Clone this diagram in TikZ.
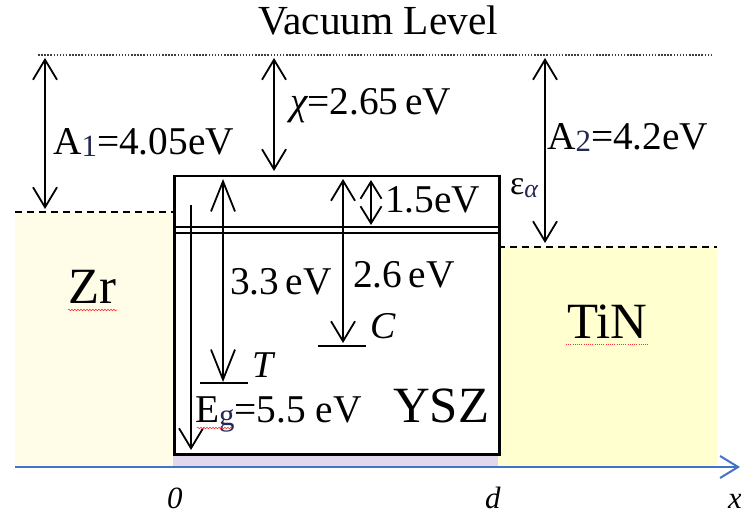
\documentclass[tikz,border=0pt]{standalone}
\usepackage{fontspec}
\setmainfont{Liberation Serif}
\usetikzlibrary{arrows.meta,decorations.pathmorphing}
\definecolor{zrfill}{RGB}{255,253,232}
\definecolor{tinfill}{RGB}{255,255,208}
\definecolor{purp}{RGB}{226,216,238}
\definecolor{axblue}{RGB}{68,114,196}
\definecolor{subcol}{RGB}{35,40,80}
\begin{document}
\begin{tikzpicture}[x=1bp,y=-1bp,
  barb/.tip={Straight Barb[length=20bp,width=24bp,line width=1.8bp]},
  longbarb/.tip={Straight Barb[length=30bp,width=24bp,line width=1.8bp]},
  smallbarb/.tip={Straight Barb[length=17bp,width=21bp,line width=1.8bp]},
  lab/.style={inner sep=0pt,anchor=base west,font=\fontsize{39.5}{41}\selectfont},
  biglab/.style={inner sep=0pt,anchor=base west,font=\fontsize{51}{54}\selectfont},
  axlab/.style={inner sep=0pt,anchor=base west,font=\fontsize{31}{33}\selectfont\itshape},
  energy/.style={line width=2bp},
  level/.style={line width=2bp},
  fermi/.style={line width=2bp,dash pattern=on 7bp off 5bp},
  vac/.style={line width=1.5bp,dash pattern=on 1.5bp off 1.6bp,black!75},
  wavy/.style={red!80,line width=0.6bp,decorate,decoration={snake,amplitude=0.8bp,segment length=3bp}}
]
\useasboundingbox (0,0) rectangle (741,514);
\fill[white] (0,0) rectangle (741,514);

% regions
\fill[zrfill] (15,212) rectangle (173,467);
\fill[tinfill] (498,247) rectangle (717,467);
\fill[purp] (173,453) rectangle (498,467);

% YSZ box
\node[draw,line width=2.5bp,minimum width=325bp,minimum height=278bp,inner sep=0pt,anchor=north west] (ysz) at (173,175) {};
\draw[line width=2bp] (173,227) -- (498,227);
\draw[line width=2bp] (173,233) -- (498,233);

% Fermi levels and vacuum level
\draw[fermi] (15,212) -- (173,212);
\draw[fermi] (498,247) -- (717,247);
\draw[vac] (38,55) -- (712,55);

% x axis
\coordinate (ax0) at (15,467);
\coordinate (ax1) at (740,467);
\draw[axblue,line width=2bp,-{Straight Barb[length=18bp,width=22bp,line width=2bp]}] (ax0) -- (ax1);

% levels T and C
\coordinate (tl) at (200,383); \coordinate (tr) at (248,383);
\coordinate (cl) at (318,346); \coordinate (cr) at (366,346);
\draw[level] (tl) -- (tr);
\draw[level] (cl) -- (cr);

% energy arrows
\coordinate (a1t) at (45,58);   \coordinate (a1b) at (45,209);
\coordinate (cht) at (274,58);  \coordinate (chb) at (274,171);
\coordinate (a2t) at (545,58);  \coordinate (a2b) at (545,243);
\coordinate (t3t) at (223,179); \coordinate (t3b) at (223,382);
\coordinate (egt) at (191,205); \coordinate (egb) at (191,450);
\coordinate (c2t) at (343,179); \coordinate (c2b) at (343,343);
\coordinate (e15t) at (371,180); \coordinate (e15b) at (371,225);
\draw[energy,barb-barb] (a1t) -- (a1b);
\draw[energy,barb-barb] (cht) -- (chb);
\draw[energy,barb-barb] (a2t) -- (a2b);
\draw[energy,longbarb-longbarb] (t3t) -- (t3b);
\draw[energy,-barb] (egt) -- (egb);
\draw[energy,barb-barb] (c2t) -- (c2b);
\draw[energy,smallbarb-smallbarb] (e15t) -- (e15b);

% labels
\node[inner sep=0pt,anchor=base,font=\fontsize{41.5}{43}\selectfont] (vl) at (378,35) {Vacuum Level};
\node[lab] (la1) at (53,155) {A{\fontsize{31}{31}\selectfont\color{subcol}\raisebox{-2bp}{1}}=4.05eV};
\node[lab] (lch) at (290,115) {{\itshape χ}=2.65\,eV};
\node[lab] (la2) at (547,150) {A{\fontsize{31}{31}\selectfont\color{subcol}\raisebox{-2bp}{2}}=4.2eV};
\node[inner sep=0pt,anchor=base west,font=\fontsize{34}{36}\selectfont] (lea) at (510,195) {ε{\fontsize{26}{26}\selectfont\itshape\color{subcol}\raisebox{-3bp}{α}}};
\node[lab] (l15) at (385,213) {1.5eV};
\node[lab] (l33) at (230,295) {3.3\,eV};
\node[lab] (l26) at (353,288) {2.6\,eV};
\node[lab,font=\fontsize{38}{40}\selectfont\itshape] (lc) at (370,338) {C};
\node[lab,font=\fontsize{38}{40}\selectfont\itshape] (lt) at (252,377) {T};
\node[lab] (leg) at (195,422) {E{\fontsize{31}{31}\selectfont\color{subcol}\raisebox{-3bp}{g}}=5.5 eV};
\node[biglab] (lysz) at (393,422) {YSZ};
\node[biglab] (lzr) at (68,303) {Zr};
\node[biglab] (ltin) at (567,338) {TiN};
\node[axlab] (l0) at (167,508) {0};
\node[axlab] (ld) at (485,508) {d};
\node[axlab] (lx) at (728,508) {x};

% spell-check marks
\draw[wavy] (68,310) -- (117,310);
\draw[wavy] (197,428) -- (232,428);
\draw[red!80,line width=0.8bp,dash pattern=on 1bp off 1.2bp] (566,344) -- (649,344);
\end{tikzpicture}
\end{document}
